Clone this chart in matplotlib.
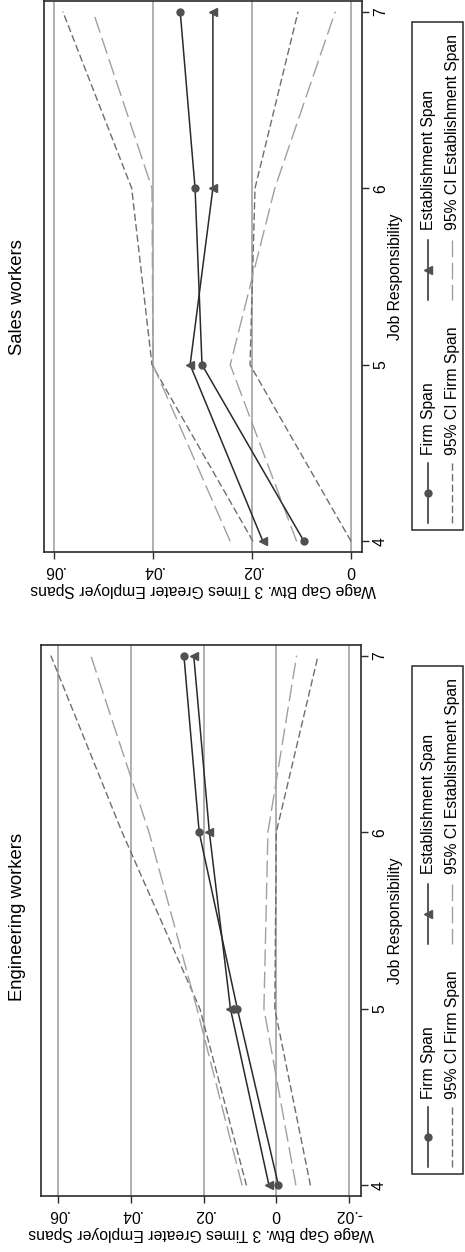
import matplotlib
matplotlib.use("Agg")
import matplotlib.pyplot as plt
from matplotlib.lines import Line2D
from matplotlib.patches import Rectangle

# ---------------- data ----------------
responsibility = [4, 5, 6, 7]
resp_ticklabels = ["4", "5", "6", "7"]

sales_firm = [0.0095, 0.0301, 0.0315, 0.0345]
sales_firm_lo = [0.0000, 0.0204, 0.0194, 0.0107]
sales_firm_hi = [0.0198, 0.0402, 0.0443, 0.0582]
sales_est = [0.0178, 0.0325, 0.0279, 0.0279]
sales_est_lo = [0.0110, 0.0244, 0.0154, 0.0032]
sales_est_hi = [0.0244, 0.0400, 0.0402, 0.0521]

eng_firm = [-0.0006, 0.0107, 0.0212, 0.0254]
eng_firm_lo = [-0.0094, 0.0004, 0.0000, -0.0115]
eng_firm_hi = [0.0082, 0.0210, 0.0424, 0.0620]
eng_est = [0.0020, 0.0126, 0.0184, 0.0227]
eng_est_lo = [-0.0054, 0.0034, 0.0023, -0.0056]
eng_est_hi = [0.0094, 0.0218, 0.0350, 0.0510]

sales_ticks = [0.0, 0.02, 0.04, 0.06]
sales_ticklabels = ["0", ".02", ".04", ".06"]
eng_ticks = [-0.02, 0.0, 0.02, 0.04, 0.06]
eng_ticklabels = ["-.02", "0", ".02", ".04", ".06"]

titles = ["Sales workers", "Engineering workers"]
resp_label = "Job Responsibility"
gap_label = "Wage Gap Btw. 3 Times Greater Employer Spans"
legend_labels = ["Firm Span", "Establishment Span",
                 "95% CI Firm Span", "95% CI Establishment Span"]

# ---------------- style ----------------
plt.rcParams['font.family'] = ['Liberation Sans', 'DejaVu Sans']
plt.rcParams['lines.scale_dashes'] = False

W, H = 465, 1252
fig = plt.figure(figsize=(W / 100, H / 100), dpi=100)
fig.patch.set_facecolor('white')

def fx(px):
    return px / W

def fy(py):
    return 1 - py / H

LINE_C = '#2a2a2a'
MARK_C = '#505050'
SHORT_C = '#6e6e6e'
LONG_C = '#a0a0a0'
GRID_C = '#9a9a9a'
FRAME_C = '#2a2a2a'
SHORT_D = (5.2, 2.4)
LONG_D = (12.0, 4.0)
FS = 11.3

def panel(box, xlim, ticks, ticklabels, firm, firm_lo, firm_hi,
          est, est_lo, est_hi, title, title_y):
    left, top, right, bottom = box
    ax = fig.add_axes([fx(left), fy(bottom), (right - left) / W, (bottom - top) / H])
    for v in ticks:
        ax.axvline(v, color=GRID_C, lw=1.1, zorder=0)
    ax.plot(firm_hi, responsibility, color=SHORT_C, lw=1.0, dashes=SHORT_D)
    ax.plot(firm_lo, responsibility, color=SHORT_C, lw=1.0, dashes=SHORT_D)
    ax.plot(est_hi, responsibility, color=LONG_C, lw=1.0, dashes=LONG_D)
    ax.plot(est_lo, responsibility, color=LONG_C, lw=1.0, dashes=LONG_D)
    ax.plot(firm, responsibility, color=LINE_C, lw=1.1, marker='o', ms=5,
            mfc=MARK_C, mec=MARK_C)
    ax.plot(est, responsibility, color=LINE_C, lw=1.1, marker='<', ms=5.5,
            mfc=MARK_C, mec=MARK_C)
    ax.set_xlim(*xlim)
    ax.set_ylim(3.94, 7.06)
    ax.set_xticks(ticks)
    ax.set_xticklabels(ticklabels, rotation=180, fontsize=FS)
    ax.set_yticks(responsibility)
    ax.set_yticklabels(resp_ticklabels, rotation=90, fontsize=FS, va='center')
    ax.yaxis.tick_right()
    ax.tick_params(axis='x', length=5, width=1.0, color=FRAME_C, pad=3)
    ax.tick_params(axis='y', length=5, width=1.0, color=FRAME_C, pad=3)
    for s in ax.spines.values():
        s.set_color(FRAME_C)
        s.set_linewidth(1.2)
    cx = (left + right) / 2
    cy = (top + bottom) / 2
    fig.text(fx(cx), fy(bottom + 38), gap_label, rotation=180, fontsize=FS,
             ha='center', va='center')
    fig.text(fx(395), fy(cy), resp_label, rotation=90, fontsize=FS,
             ha='center', va='center')
    fig.text(fx(17), fy(title_y), title, rotation=90, fontsize=13.3,
             ha='center', va='center')
    return ax

def legend(top):
    fig.add_artist(Rectangle((fx(412), fy(top + 508)), 51 / W, 508 / H,
                             transform=fig.transFigure, fill=False,
                             ec=FRAME_C, lw=1.1))
    c1, c2 = 428, 452
    # Firm Span
    fig.add_artist(Line2D([fx(c1), fx(c1)], [fy(top + 441), fy(top + 501)],
                          transform=fig.transFigure, color=LINE_C, lw=1.1))
    fig.add_artist(Line2D([fx(c1)], [fy(top + 471)], transform=fig.transFigure,
                          marker='o', ms=5, mfc=MARK_C, mec=MARK_C, ls='none'))
    fig.text(fx(c1), fy(top + 433), legend_labels[0], rotation=90, fontsize=FS,
             ha='center', va='bottom')
    # Establishment Span
    fig.add_artist(Line2D([fx(c1), fx(c1)], [fy(top + 218), fy(top + 278)],
                          transform=fig.transFigure, color=LINE_C, lw=1.1))
    fig.add_artist(Line2D([fx(c1)], [fy(top + 248)], transform=fig.transFigure,
                          marker='<', ms=5.5, mfc=MARK_C, mec=MARK_C, ls='none'))
    fig.text(fx(c1), fy(top + 208), legend_labels[1], rotation=90, fontsize=FS,
             ha='center', va='bottom')
    # CI Firm
    fig.add_artist(Line2D([fx(c2), fx(c2)], [fy(top + 441), fy(top + 501)],
                          transform=fig.transFigure, color=SHORT_C, lw=1.0,
                          dashes=SHORT_D))
    fig.text(fx(c2), fy(top + 433), legend_labels[2], rotation=90, fontsize=FS,
             ha='center', va='bottom')
    # CI Establishment
    fig.add_artist(Line2D([fx(c2), fx(c2)], [fy(top + 218), fy(top + 278)],
                          transform=fig.transFigure, color=LONG_C, lw=1.0,
                          dashes=LONG_D))
    fig.text(fx(c2), fy(top + 208), legend_labels[3], rotation=90, fontsize=FS,
             ha='center', va='bottom')

panel((44, 1, 362, 552), (0.062, -0.0022), sales_ticks, sales_ticklabels,
      sales_firm, sales_firm_lo, sales_firm_hi,
      sales_est, sales_est_lo, sales_est_hi, titles[0], 297)
legend(22)

panel((41, 645, 361, 1196), (0.0647, -0.0233), eng_ticks, eng_ticklabels,
      eng_firm, eng_firm_lo, eng_firm_hi,
      eng_est, eng_est_lo, eng_est_hi, titles[1], 917)
legend(666)

fig.savefig('out.png', dpi=100, facecolor='white')
